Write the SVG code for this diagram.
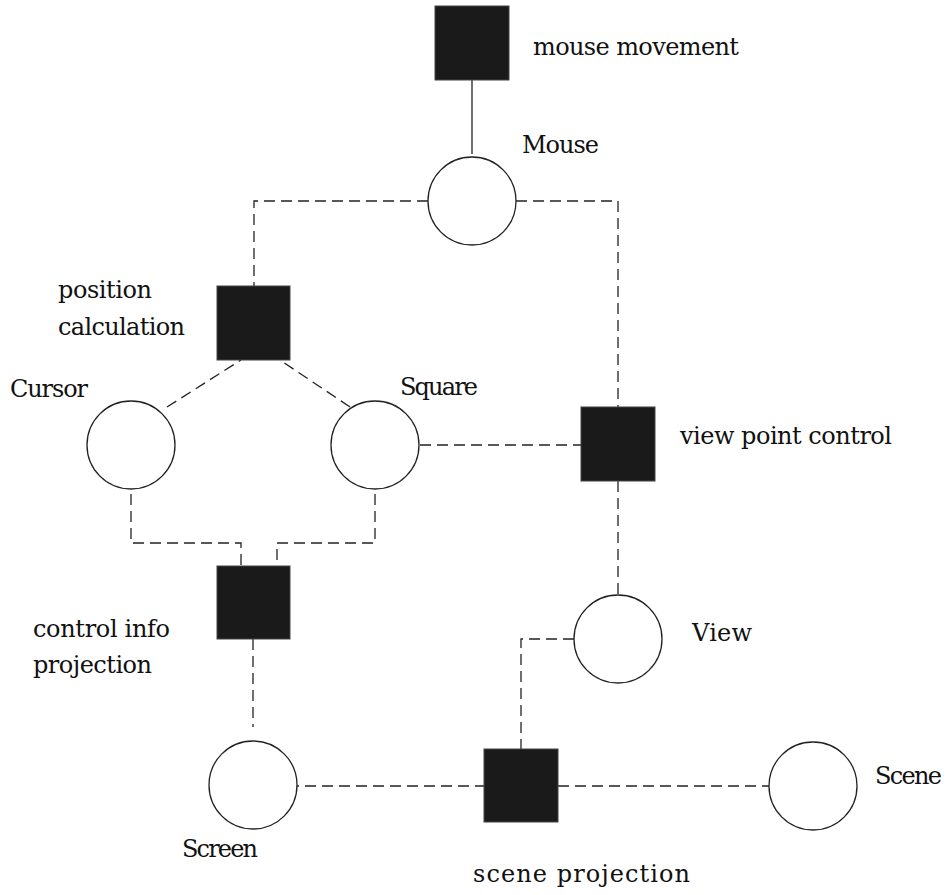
<svg xmlns="http://www.w3.org/2000/svg" width="950" height="895" viewBox="0 0 950 895">
<style>
.sq{fill:#1a1a1a;stroke:#444;stroke-width:1}
.ci{fill:#fff;stroke:#222;stroke-width:1.3}
.d{fill:none;stroke:#222;stroke-width:1.3;stroke-dasharray:11 6}
.s{fill:none;stroke:#222;stroke-width:1.3}
.t{font-family:'DejaVu Serif',serif;font-size:24px;fill:#111}
</style>
<rect width="950" height="895" fill="#fff"/>
<g id="connectors">
<line class="s" x1="472" y1="80" x2="472" y2="154"/>
<polyline class="d" points="428,201 254,201 254,286"/>
<polyline class="d" points="516,201 618,201 618,407"/>
<line class="d" x1="167" y1="407" x2="241" y2="360"/>
<line class="d" x1="350" y1="407" x2="280" y2="360"/>
<line class="d" x1="420" y1="445" x2="581" y2="445"/>
<polyline class="d" points="131,494 131,543 241,543 241,566"/>
<polyline class="d" points="375,494 375,543 277,543 277,566"/>
<line class="d" x1="618" y1="481" x2="618" y2="595"/>
<polyline class="d" points="574,639 521,639 521,749"/>
<line class="d" x1="253" y1="639" x2="253" y2="727"/>
<line class="d" x1="288" y1="786" x2="484" y2="786"/>
<line class="d" x1="558" y1="786" x2="769" y2="786"/>
</g>
<g id="mouse-movement"><rect class="sq" x="435" y="6" width="74" height="74"/><text class="t" x="533" y="55" textLength="206">mouse movement</text></g>
<g id="mouse"><circle class="ci" cx="472" cy="201" r="44"/><text class="t" x="522" y="153" textLength="77">Mouse</text></g>
<g id="position-calculation"><rect class="sq" x="217" y="286" width="73" height="74"/><text class="t" x="58" y="298" textLength="94">position</text><text class="t" x="58" y="335" textLength="127">calculation</text></g>
<g id="cursor"><circle class="ci" cx="131" cy="445" r="44"/><text class="t" x="10" y="397" textLength="78">Cursor</text></g>
<g id="square"><circle class="ci" cx="375" cy="445" r="44"/><text class="t" x="400" y="395" textLength="78">Square</text></g>
<g id="view-point-control"><rect class="sq" x="581" y="407" width="74" height="74"/><text class="t" x="680" y="444" textLength="212">view point control</text></g>
<g id="control-info-projection"><rect class="sq" x="217" y="566" width="73" height="73"/><text class="t" x="33" y="637" textLength="137">control info</text><text class="t" x="33" y="673" textLength="119">projection</text></g>
<g id="view"><circle class="ci" cx="618" cy="639" r="44"/><text class="t" x="692" y="641" textLength="60">View</text></g>
<g id="screen"><circle class="ci" cx="253" cy="785" r="44"/><text class="t" x="182" y="857" textLength="76">Screen</text></g>
<g id="scene-projection"><rect class="sq" x="484" y="749" width="74" height="73"/><text class="t" x="473" y="882" textLength="217">scene projection</text></g>
<g id="scene"><circle class="ci" cx="813" cy="786" r="44"/><text class="t" x="875" y="784" textLength="67">Scene</text></g>
</svg>
